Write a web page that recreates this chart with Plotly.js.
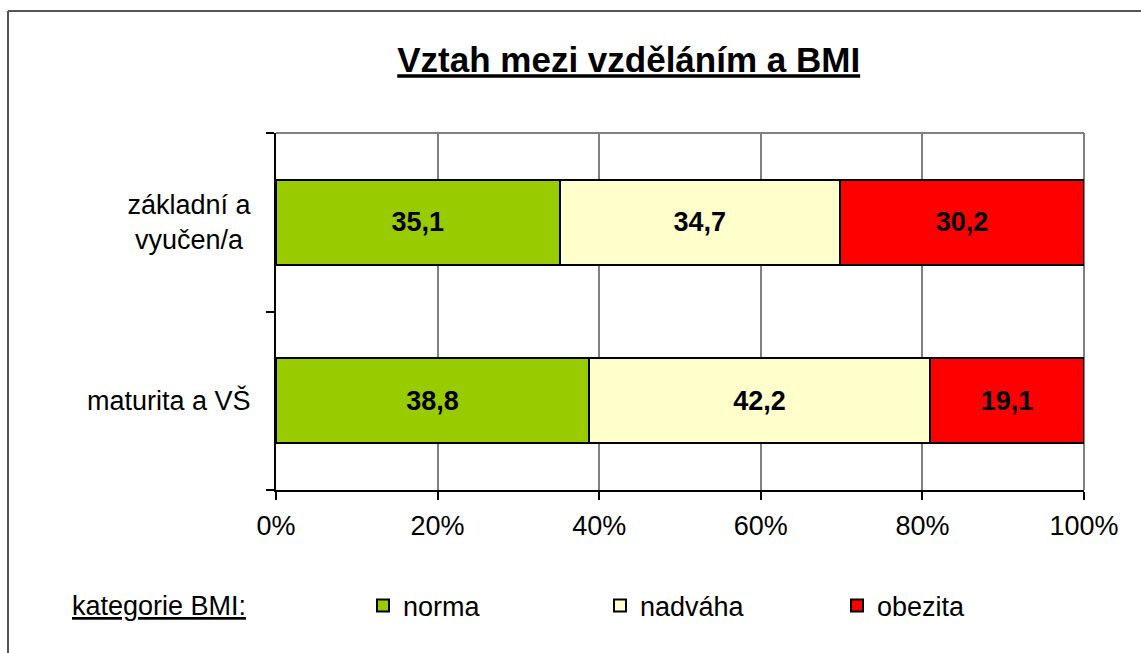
<!DOCTYPE html>
<html>
<head>
<meta charset="utf-8">
<script src="https://cdn.plot.ly/plotly-3.0.1.min.js"></script>
<style>html,body{margin:0;padding:0;background:#fff;}#chart{width:1141px;height:653px;}</style>
</head>
<body>
<div id="chart"></div>
<script>
// Data
const categories = ["maturita a VŠ", "základní a<br>vyučen/a&nbsp;"];
const seriesNames = ["norma", "nadváha", "obezita"];
const norma   = [38.8, 35.1];
const nadvaha = [42.2, 34.7];
const obezita = [19.1, 30.2];
const xTickVals = [0, 20, 40, 60, 80, 100];
const xTickText = ["0%", "20%", "40%", "60%", "80%", "100%"];
const titleText = "Vztah mezi vzděláním a BMI";
const legendLabel = "kategorie BMI:";

const colors = ["#99CC00", "#FFFFCC", "#FF0000"];
const seriesValues = [norma, nadvaha, obezita];
const fmt = v => v.toFixed(1).replace(".", ",");
const FONT = "Liberation Sans, Arial, sans-serif";

const traces = seriesValues.map((vals, i) => ({
  type: "bar",
  orientation: "h",
  name: seriesNames[i],
  y: categories,
  x: vals,
  width: 0.475,
  text: vals.map(fmt),
  textposition: "inside",
  insidetextanchor: "middle",
  constraintext: "none",
  textfont: {family: FONT, size: 27, color: "#000", weight: "bold"},
  insidetextfont: {family: FONT, size: 27, color: "#000", weight: "bold"},
  marker: {color: colors[i], line: {color: "#000", width: 2}},
  hoverinfo: "skip"
}));

const layout = {
  width: 1141, height: 653,
  margin: {l: 276, r: 57, t: 133, b: 163, pad: 0},
  paper_bgcolor: "#fff", plot_bgcolor: "#fff",
  barmode: "stack", barnorm: "percent",
  font: {family: FONT, size: 27, color: "#000"},
  title: {
    text: "<b><u>" + titleText + "</u></b>",
    font: {family: FONT, size: 35, color: "#000"},
    xref: "container", x: 0.551, xanchor: "center",
    yref: "container", y: 1 - 60/653, yanchor: "middle"
  },
  xaxis: {
    range: [0, 100], tickvals: xTickVals, ticktext: xTickText,
    showgrid: true, gridcolor: "#808080", gridwidth: 2,
    showline: true, linecolor: "#000", linewidth: 2,
    ticks: "outside", ticklen: 8, tickwidth: 2, tickcolor: "#000",
    ticklabelstandoff: 3,
    tickfont: {family: FONT, size: 27, color: "#000"},
    zeroline: false, fixedrange: true
  },
  yaxis: {
    type: "category", categoryorder: "array", categoryarray: categories,
    range: [-0.5, 1.5],
    showgrid: false, showline: true, linecolor: "#000", linewidth: 2,
    ticks: "outside", tickson: "boundaries", ticklen: 8, tickwidth: 2, tickcolor: "#000",
    ticklabelstandoff: 18,
    tickfont: {family: FONT, size: 27, color: "#000"},
    fixedrange: true
  },
  showlegend: true,
  legend: {
    orientation: "h", traceorder: "normal",
    x: (363 - 276) / 808, xanchor: "left",
    y: (490 - 606) / 357, yanchor: "middle",
    entrywidth: 192, entrywidthmode: "pixels",
    font: {family: FONT, size: 27, color: "#000"},
    bgcolor: "rgba(0,0,0,0)"
  },
  annotations: [{
    text: "<u>" + legendLabel + "</u>",
    xref: "paper", yref: "paper",
    x: (70 - 276) / 808, xanchor: "left",
    y: (490 - 606) / 357, yanchor: "middle",
    showarrow: false,
    font: {family: FONT, size: 27, color: "#000"}
  }],
  shapes: [
    // plot-area frame (top and right)
    {type: "line", xref: "paper", yref: "paper", x0: 0, x1: 1, y0: 1, y1: 1, line: {color: "#808080", width: 2}, layer: "below"},
    {type: "line", xref: "paper", yref: "paper", x0: 1, x1: 1, y0: 0, y1: 1, line: {color: "#808080", width: 2}, layer: "below"},
    // outer chart frame (top and left)
    {type: "line", xref: "paper", yref: "paper", x0: (8 - 276) / 808, x1: 1.2, y0: 1 + (133 - 11) / 357, y1: 1 + (133 - 11) / 357, line: {color: "#555", width: 2}},
    {type: "line", xref: "paper", yref: "paper", x0: (8 - 276) / 808, x1: (8 - 276) / 808, y0: 1 + (133 - 11) / 357, y1: -0.6, line: {color: "#555", width: 2}}
  ],
  hovermode: false
};

Plotly.newPlot("chart", traces, layout, {displayModeBar: false, staticPlot: true});
</script>
</body>
</html>
